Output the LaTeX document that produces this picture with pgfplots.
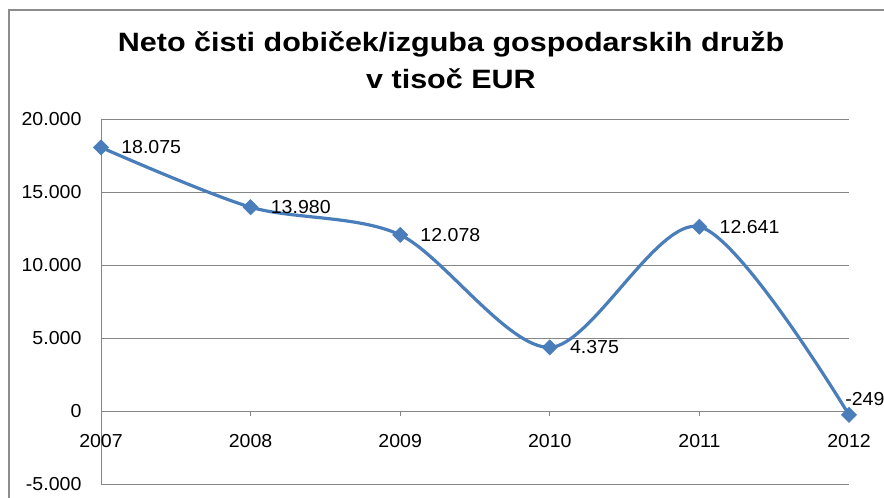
\documentclass[border=0pt]{standalone}
\usepackage{fontspec}
\setmainfont{Liberation Sans}[FakeStretch=1.04]
\newfontfamily\titlefont{Liberation Sans}[FakeStretch=1.15]
\usepackage{pgfplots}
\pgfplotsset{compat=1.18}
\definecolor{exblue}{HTML}{4A7EBB}
\definecolor{gridgray}{HTML}{868686}
\definecolor{framegray}{HTML}{8C8C8C}
\begin{document}
\begin{tikzpicture}
\useasboundingbox (0,0) rectangle (663pt,-373.5pt);
\begin{axis}[
  at={(75.75pt,-363.2pt)}, anchor=south west,
  scale only axis, width=561pt, height=273.75pt,
  xmin=0, xmax=5, ymin=-5000, ymax=20000,
  axis y line*=left, axis x line*=middle,
  hide obscured x ticks=false,
  scaled y ticks=false,
  axis line style={gridgray, line width=0.75pt},
  xtick={0,...,5}, xticklabels={2007,2008,2009,2010,2011,2012},
  ytick={-5000,0,5000,10000,15000,20000},
  yticklabels={-5.000,0,5.000,10.000,15.000,20.000},
  ymajorgrids, grid style={gridgray, line width=0.75pt},
  ytick style={draw=none},
  xtick style={gridgray, line width=0.75pt},
  xtick align=outside, major tick length=3.75pt,
  tick label style={font=\fontsize{14.1}{17}\selectfont, text=black},
  xticklabel style={anchor=center, yshift=-18.3pt},
  yticklabel style={anchor=east, inner sep=0pt, xshift=-14.5pt},
  clip=false,
]
\addplot[exblue, line width=2.4pt, smooth, tension=0.5, mark=square*, mark size=4pt,
  mark options={rotate=45, fill=exblue, draw=exblue, line width=0.5pt}]
  coordinates {(0,18075)(1,13980)(2,12078)(3,4375)(4,12641)(5,-249)};
\addplot[draw=none, mark=none, forget plot, nodes near coords, point meta=explicit symbolic,
  every node near coord/.append style={anchor=west, inner sep=0pt, xshift=15pt,
    font=\fontsize{14.1}{17}\selectfont, text=black}]
  coordinates {(0,18075)[18.075] (1,13980)[13.980] (2,12078)[12.078] (3,4375)[4.375] (4,12641)[12.641]};
\addplot[draw=none, mark=none, forget plot, nodes near coords, point meta=explicit symbolic,
  every node near coord/.append style={anchor=west, inner sep=0pt, xshift=-3pt, yshift=12pt,
    font=\fontsize{14.1}{17}\selectfont, text=black}]
  coordinates {(5,-249)[-249]};
\end{axis}
\node[anchor=base, font=\titlefont\fontsize{19.9}{24}\selectfont\bfseries] at (338.25pt,-39pt) {Neto čisti dobiček/izguba gospodarskih družb};
\node[anchor=base, font=\titlefont\fontsize{19.9}{24}\selectfont\bfseries] at (338.25pt,-66.75pt) {v tisoč EUR};
\draw[framegray, line width=1.5pt] (7pt,-380pt) -- (7pt,-7.5pt) -- (670pt,-7.5pt);
\end{tikzpicture}
\end{document}
